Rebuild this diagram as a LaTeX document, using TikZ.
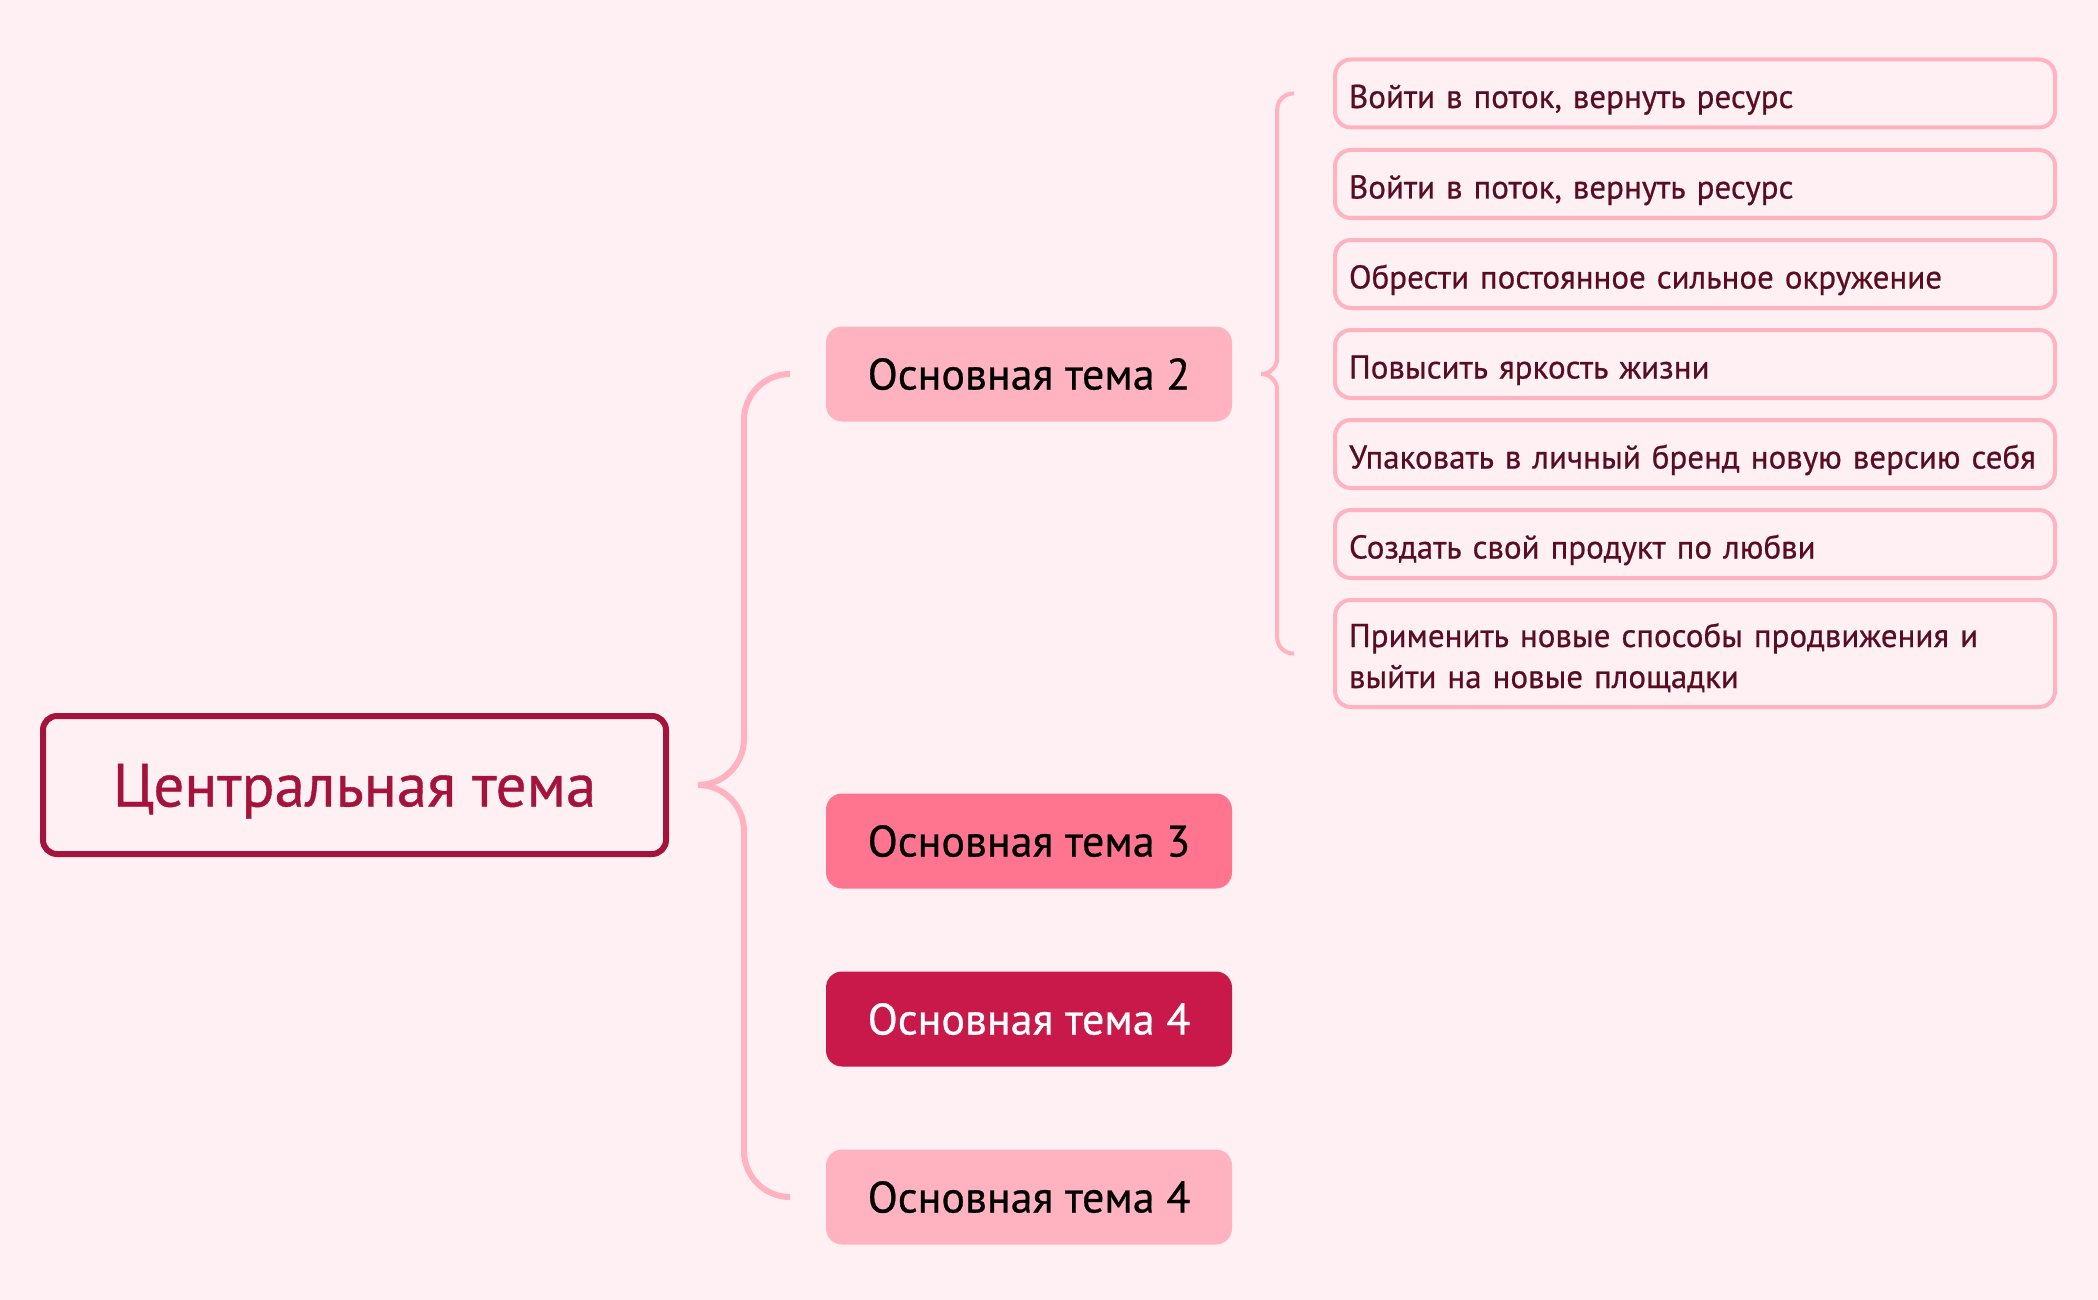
\documentclass[tikz,border=0pt]{standalone}
\usepackage{fontspec}
\setmainfont{PT Sans}[FakeBold=0.6]
\definecolor{bg}{HTML}{FFF0F3}
\definecolor{pinkA}{HTML}{FFB3C1}
\definecolor{pinkB}{HTML}{FF758F}
\definecolor{pinkC}{HTML}{C9184A}
\definecolor{pinkD}{HTML}{A4133C}
\definecolor{pinkE}{HTML}{590D22}
\tikzset{
  central/.style={draw=pinkD,line width=6pt,rounded corners=14pt,fill=bg,text=pinkD,
    minimum width=623pt,minimum height=138pt,text height=43pt,text depth=0pt,
    font=\fontsize{61}{72}\selectfont},
  topic/.style={rounded corners=16pt,minimum width=406pt,minimum height=95pt,
    text height=31pt,text depth=0pt,font=\fontsize{44}{52}\selectfont},
  sub/.style={draw=pinkA,line width=4pt,rounded corners=16pt,fill=bg,text=pinkE,
    minimum width=720pt,minimum height=68pt,text width=692pt,inner xsep=14pt,align=left,
    text height=29pt,text depth=0pt,font=\fontsize{33}{41}\selectfont},
  branch/.style={draw=pinkA,line width=6pt,rounded corners=46pt},
  subbranch/.style={draw=pinkA,line width=4pt,rounded corners=16pt}
}
\begin{document}
\begin{tikzpicture}[x=1pt,y=-1pt]
\useasboundingbox[fill=bg] (0,0) rectangle (2098,1300);

\node[central] (c) at (354.5,785) {Центральная тема};

\node[topic,fill=pinkA,text=black] (t2) at (1029,374) {Основная тема 2};
\node[topic,fill=pinkB,text=black] (t3) at (1029,841) {Основная тема 3};
\node[topic,fill=pinkC,text=white] (t4) at (1029,1019) {Основная тема 4};
\node[topic,fill=pinkA,text=black] (t5) at (1029,1197) {Основная тема 4};

\node[sub] (s1) at (1695,93.5) {Войти в поток, вернуть ресурс};
\node[sub] (s2) at (1695,184) {Войти в поток, вернуть ресурс};
\node[sub] (s3) at (1695,274) {Обрести постоянное сильное окружение};
\node[sub] (s4) at (1695,364) {Повысить яркость жизни};
\node[sub] (s5) at (1695,454) {Упаковать в личный бренд новую версию себя};
\node[sub] (s6) at (1695,544) {Создать свой продукт по любви};
\node[sub,minimum height=107pt,text height=35pt,text depth=48pt] (s7) at (1695,653.5) {Применить новые способы продвижения и\\выйти на новые площадки};

\draw[branch] ([xshift=29pt]c.east) -- ++(46pt,0) |- ([xshift=-36pt]t2.west);
\draw[branch] ([xshift=29pt]c.east) -- ++(46pt,0) |- ([xshift=-36pt]t5.west);

\draw[subbranch] ([xshift=29pt]t2.east) -- ++(16pt,0) |- ([xshift=-39pt]s1.west);
\draw[subbranch] ([xshift=29pt]t2.east) -- ++(16pt,0) |- ([xshift=-39pt]s7.west);
\end{tikzpicture}
\end{document}
